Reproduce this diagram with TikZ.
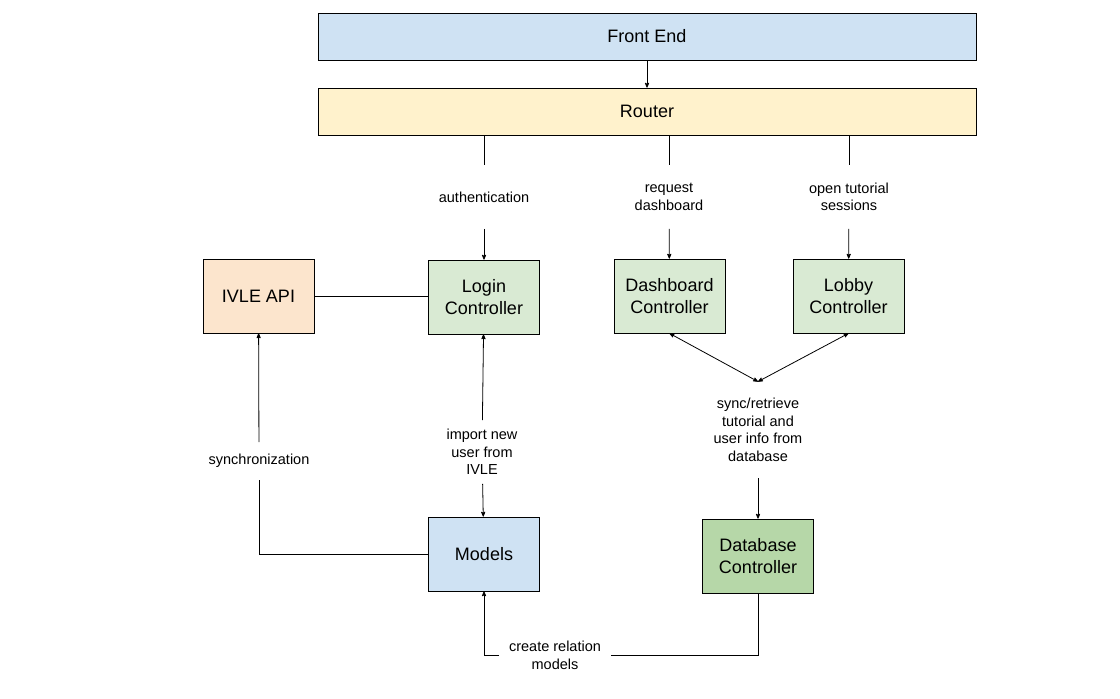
\documentclass[tikz,border=0pt]{standalone}
\usepackage{fontspec}
\setmainfont{Liberation Sans}
\usetikzlibrary{arrows,positioning}

\definecolor{feblue}{HTML}{CFE2F3}
\definecolor{rtyellow}{HTML}{FFF2CC}
\definecolor{apiorange}{HTML}{FCE5CD}
\definecolor{ctlgreen}{HTML}{D9EAD3}
\definecolor{dbgreen}{HTML}{B6D7A8}

\begin{document}
\begin{tikzpicture}[x=1pt,y=-1pt,>=stealth',line width=0.8pt,
                    layer/.style={draw,line width=0.7pt,minimum width=658pt,minimum height=47pt,
                                  font=\fontsize{18}{21}\selectfont},
                    block/.style={draw,line width=0.7pt,minimum width=111pt,minimum height=74pt,
                                  align=center,font=\fontsize{18}{22}\selectfont},
                    lbl/.style={align=center,inner sep=0pt,font=\fontsize{14.5}{17.5}\selectfont}]
	\useasboundingbox (0,0) rectangle (1120,699);
	% layers
	\node[layer,fill=feblue]		(fe)		at (647,36.5)	{Front End};
	\node[layer,fill=rtyellow]		(router)	at (647,111.5)	{Router};
	% controllers
	\node[block,fill=apiorange]	(ivle)	at (258.5,296)	{IVLE API};
	\node[block,fill=ctlgreen]		(login)	at (484,297)	{Login\\Controller};
	\node[block,fill=ctlgreen]		(dash)	at (669.5,296)	{Dashboard\\Controller};
	\node[block,fill=ctlgreen]		(lobby)	at (848.5,296)	{Lobby\\Controller};
	\node[block,fill=feblue]		(models)	at (484,554)	{Models};
	\node[block,fill=dbgreen]		(db)		at (758,556)	{Database\\Controller};
	% labels
	\node[lbl,minimum height=63pt]	(auth)	at (484,197)	{authentication};
	\node[lbl,minimum height=63pt]	(reqdash)	at (669,197)	{request\\dashboard};
	\node[lbl,minimum height=63pt]	(opentut)	at (849,197)	{open tutorial\\sessions};
	\node[lbl,minimum height=63pt]	(import)	at (482,452)	{import new\\user from\\IVLE};
	\node[lbl,minimum height=37pt]	(sync)	at (259,461)	{synchronization};
	\node[lbl,minimum height=96pt]	(syncdb)	at (758,430)	{sync/retrieve\\tutorial and\\user info from\\database};
	\node[lbl,minimum width=111pt]	(relation)	at (555,655.5)	{create relation\\models};
	% connectors
	\draw[->] (fe) -- (router);
	\draw (router.south -| auth) -- (auth);
	\draw[->] (auth) -- (login);
	\draw (router.south -| reqdash) -- (reqdash);
	\draw[->] (reqdash) -- (dash);
	\draw (router.south -| opentut) -- (opentut);
	\draw[->] (opentut) -- (lobby);
	\draw (ivle) -- (login.west |- ivle);
	\draw[->] (import) -- (login);
	\draw[->] (import) -- (models);
	\draw (models.west) -| (sync);
	\draw[->] (sync) -- (ivle);
	\draw[<->] (dash.south) -- (syncdb.north);
	\draw[<->] (lobby.south) -- (syncdb.north);
	\draw[->] (syncdb) -- (db);
	\draw (db.south) |- (relation.east);
	\draw[->] (relation.west) -| (models.south);
\end{tikzpicture}
\end{document}
